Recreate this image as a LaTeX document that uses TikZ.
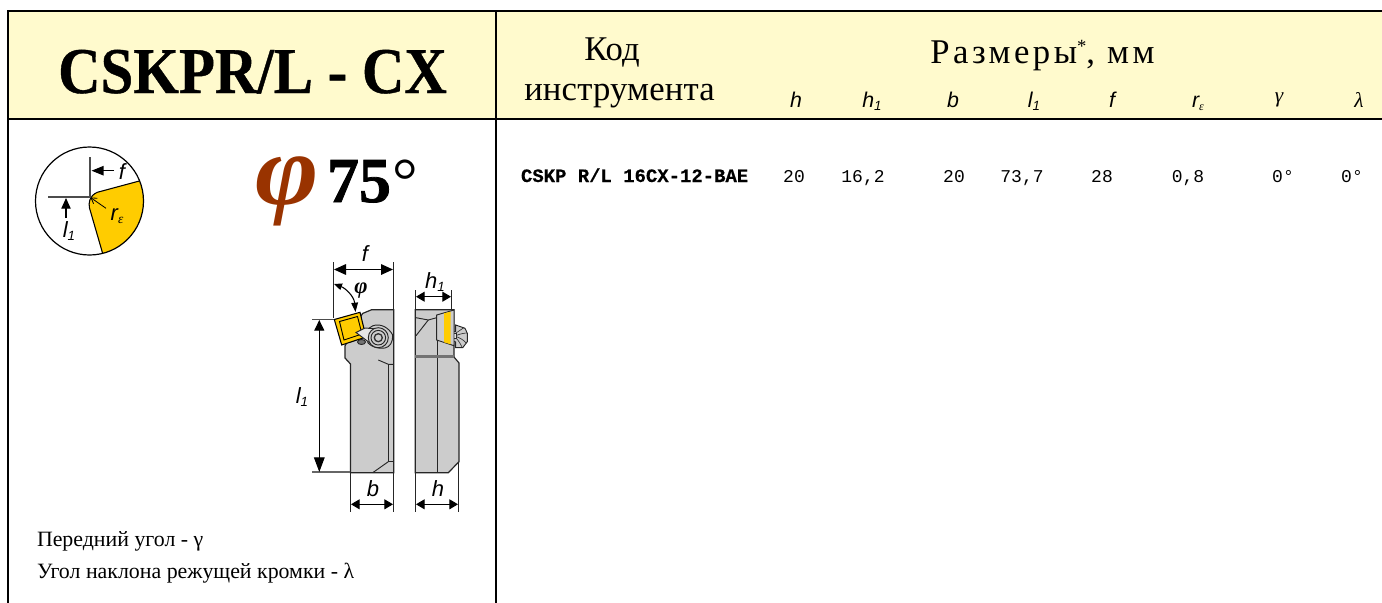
\documentclass[tikz,border=0pt]{standalone}
\usepackage{fontspec}
\setmainfont{Liberation Serif}
\setsansfont{Liberation Sans}
\setmonofont{Liberation Mono}
\usetikzlibrary{arrows.meta}
\definecolor{hdr}{HTML}{FFFACD}
\definecolor{ins}{HTML}{FFCC00}
\definecolor{body}{HTML}{CCCCCC}
\definecolor{phic}{HTML}{993300}
\newcommand{\fs}[1]{\fontsize{#1}{#1}\selectfont}
\newcommand{\subs}[2]{\raisebox{-2.6pt}{\fs{#1}#2}}
\newcommand{\epsi}{{\rmfamily\itshape ε}}
\tikzset{
  x=0.75pt,y=-0.75pt,
  lbl/.style={inner sep=0pt,outer sep=0pt},
  frameln/.style={line width=2.2pt,black},
  dimln/.style={line width=0.8pt,black},
  extln/.style={line width=0.8pt,black!85},
  dimarr/.style={dimln,{Triangle[length=9pt,width=8pt]}-{Triangle[length=9pt,width=8pt]}},
  smallarr/.style={dimln,{Triangle[length=6.5pt,width=7.5pt]}-{Triangle[length=6.5pt,width=7.5pt]}},
  part/.style={line width=0.9pt,draw=black!85},
  thin part/.style={line width=0.7pt,draw=black!85},
  hdrit/.style={lbl,anchor=base,font=\sffamily\itshape\fs{16}},
  cell/.style={lbl,anchor=base,font=\ttfamily\fs{13.5}},
  dimtxt/.style={lbl,anchor=base,font=\sffamily\itshape\fs{16.5}},
}
\begin{document}
\begin{tikzpicture}
\useasboundingbox (0,0) rectangle (1382,603);
\fill[white] (0,0) rectangle (1382,603);
\fill[hdr] (8,11) rectangle (1382,119);
% frame
\draw[frameln] (1382,11) -- (8,11) -- (8,603);
\draw[frameln] (8,119) -- (1382,119);
\draw[frameln] (496,11) -- (496,603);
% header text
\node[lbl,anchor=base,font=\bfseries\fs{49}] (title) at (252.5,93) {\addfontfeatures{FakeStretch=0.9,FakeBold=0.6}CSKPR/L - CX};
\node[lbl,anchor=base,font=\fs{26}] (kod) at (612,60) {Код};
\node[lbl,anchor=base,font=\fs{26}] (instr) at (619.5,100) {\addfontfeatures{LetterSpace=0.5}инструмента};
\node[lbl,anchor=base,font=\fs{26}] (razm) at (1042.5,63) {\addfontfeatures{LetterSpace=10}Размеры{\fs{14}\raisebox{8pt}{*}}, мм};
\node[hdrit] (hh) at (796,107) {h};
\node[hdrit] (hh1) at (872,107) {h\subs{10}{1}};
\node[hdrit] (hb) at (953,107) {b};
\node[hdrit] (hl1) at (1034,107) {l\subs{10}{1}};
\node[hdrit] (hf) at (1112,107) {f};
\node[hdrit] (hr) at (1198,107) {r\subs{9}{\epsi}};
\node[lbl,anchor=base,font=\itshape\fs{16}] (hg) at (1279,102) {γ};
\node[lbl,anchor=base,font=\itshape\fs{16}] (hl) at (1359,107) {λ};
% row
\node[lbl,anchor=base west,font=\ttfamily\bfseries\fs{14.2}] (code) at (521,182) {\addfontfeatures{FakeBold=0.4}CSKP R/L 16CX-12-BAE};
\node[cell] (c1) at (794,182) {20};
\node[cell] (c2) at (863,182) {16,2};
\node[cell] (c3) at (954,182) {20};
\node[cell] (c4) at (1022,182) {73,7};
\node[cell] (c5) at (1102,182) {28};
\node[cell] (c6) at (1188,182) {0,8};
\node[cell] (c7) at (1283,182) {0°};
\node[cell] (c8) at (1352,182) {0°};
% phi 75
\node[lbl,anchor=base,font=\bfseries\itshape\fs{76},text=phic] (phi) at (287.5,204) {\addfontfeatures{FakeStretch=1.07}φ};
\node[lbl,anchor=base west,font=\bfseries\fs{48}] (deg) at (327,202) {\addfontfeatures{FakeBold=1.2}75\hspace{1pt}{\mdseries\addfontfeatures{FakeBold=0}°}};
% notes
\node[lbl,anchor=base west,font=\fs{16.4}] (n1) at (37,546) {Передний угол - γ};
\node[lbl,anchor=base west,font=\fs{16.4}] (n2) at (37,578) {Угол наклона режущей кромки - λ};
% small circle
\coordinate (cc) at (89.5,201);
\fill[ins] (139.3,181) arc[start angle=-21.7,end angle=76,radius=54] -- (89.5,208) .. controls (88.5,203) and (89,196) .. (97.3,192.3) -- cycle;
\draw[line width=0.8pt] (139.3,181) -- (97.3,192.3) .. controls (89,196) and (88.5,203) .. (89.5,208) -- (102.7,253.5);
\draw[line width=0.9pt] (cc) circle[radius=54];
\coordinate (cv) at (90,157); \coordinate (ch) at (48,197); \coordinate (co) at (90,197);
\draw[black!70,line width=0.9pt] (cv) -- (co) -- (ch);
\coordinate (fa) at (114,170.7); \coordinate (fb) at (91.5,170.7);
\draw[dimln,-{Triangle[length=9pt,width=7pt]}] (fa) -- (fb);
\coordinate (la) at (66,218); \coordinate (lb) at (66,198);
\draw[dimln,-{Triangle[length=8pt,width=7pt]}] (la) -- (lb);
\coordinate (ra) at (106,208.3); \coordinate (rb) at (90.5,197.5);
\draw[line width=0.6pt,-{Straight Barb[length=4pt,width=5pt]}] (ra) -- (rb);
\node[dimtxt] (lf) at (122,179) {f};
\node[dimtxt] (ll) at (69,237) {l\subs{10}{1}};
\node[dimtxt] (lr) at (117,220) {r\subs{10}{\epsi}};
% left view body
\filldraw[body,part] (350.5,364) -- (345,358) -- (345,346) -- (362.5,313.5) -- (371.7,309.7) -- (393.7,309.7) -- (393.7,472.7) -- (350.5,472.7) -- cycle;
\draw[thin part] (378.3,360) -- (388.3,364.3) -- (393.7,364.3);
\draw[thin part] (388.3,364.3) -- (388.3,461.7) -- (393.7,461.7);
\draw[thin part] (388.3,461.7) -- (372.7,472.7);
% clamp
\filldraw[fill=black!55,thin part] (361.5,342) ellipse[x radius=4,y radius=2.5];
\filldraw[fill=body,thin part] (373,325.7) .. controls (381,323) and (389,328) .. (392.7,335) .. controls (393,342) and (390,347) .. (385,348) .. controls (378,349) and (372,347) .. (368,343) -- (366,330) -- cycle;
% insert
\filldraw[fill=ins,line width=0.8pt,draw=black] (334.3,319.5) -- (360,312.3) -- (366,337) -- (341.7,345) -- cycle;
\draw[line width=0.7pt] (339.5,321.5) -- (357.5,316.5) -- (362,334) -- (344,340) -- cycle;
\filldraw[fill=body!50,thin part] (356,332.5) -- (365,328) -- (377,329) -- (372,345) -- (370,343) -- cycle;
\filldraw[fill=body,thin part] (378.3,337.7) circle[radius=10];
\draw[thin part] (378.3,337.7) circle[radius=7.3];
\draw[line width=1pt,black!80] (378.3,337.7) circle[radius=4];
% right view body
\filldraw[body,part] (415.3,309.7) -- (454,309.7) -- (454,357) -- (459,363) -- (459,461.7) -- (448.3,472.7) -- (415.3,472.7) -- cycle;
\fill[black!55] (415.3,355) rectangle (454,357.5);
\draw[thin part] (437,357.5) -- (437,472.7);
\draw[thin part] (416,335.7) -- (428.3,320) -- (436.7,317.7);
\draw[thin part] (416,317.7) -- (428.3,320);
\draw[thin part] (437,340) -- (437,355);
% screw
\filldraw[fill=body,thin part] (451.7,331.7) -- (455.7,331.7) -- (455.7,325) -- (465,328.3) -- (467.3,333.3) -- (467.3,341.7) -- (462.7,347.7) -- (455.7,347.7) -- (455.7,342) -- (451.7,340) -- cycle;
\filldraw[fill=white!90!black,thin part] (452,333) -- (456,333) -- (456,338) -- (452,338) -- cycle;
\draw[line width=0.5pt,black!80] (456,333) .. controls (459,331) and (462,329) .. (464,327.5);
\draw[line width=0.5pt,black!80] (456,338) .. controls (459,341) and (461,345) .. (462,347);
\draw[line width=0.5pt,black!80] (456,335.5) .. controls (460,334) and (464,333) .. (467,333);
\draw[line width=0.5pt,black!80] (456,336.5) .. controls (460,338) and (464,340) .. (466,343);
\filldraw[fill=body,thin part] (436.7,315) -- (454,310) -- (454,345.7) -- (436.7,340) -- cycle;
\fill[ins] (444,313.3) -- (450.7,311.7) -- (450.7,344.3) -- (444,342.3) -- cycle;
% dimensions: f
\coordinate (fL0) at (333.5,262); \coordinate (fL1) at (333.5,318);
\coordinate (fR0) at (393.5,262); \coordinate (fR1) at (393.5,309);
\draw[extln] (fL0) -- (fL1); \draw[extln] (fR0) -- (fR1);
\coordinate (fA) at (334,269.5); \coordinate (fB) at (393,269.5);
\draw[dimarr] (fA) -- (fB);
\node[dimtxt] (df) at (365,261) {f};
% phi angle
\coordinate (pa) at (334,284); \coordinate (pb) at (355.5,312);
\draw[dimln,{Triangle[length=6pt,width=5pt]}-{Triangle[length=7pt,width=5pt]}] (pa) .. controls (345,288) and (354,296) .. (pb);
\node[lbl,anchor=base,font=\bfseries\itshape\fs{17}] (dp) at (361,293) {φ};
% l1
\coordinate (lt0) at (312,319.7); \coordinate (lt1) at (334,319.7);
\coordinate (lb0) at (312,472); \coordinate (lb1) at (350,472);
\draw[black!70,line width=0.8pt] (lt0) -- (lt1);
\draw[black!60,line width=0.9pt] (lb0) -- (lb1);
\coordinate (lA) at (319.3,320); \coordinate (lB) at (319.3,472);
\draw[dimln,{Triangle[length=8pt,width=7.5pt]}-{Triangle[length=11pt,width=8pt]}] (lA) -- (lB);
\node[dimtxt] (dl) at (302,403) {l\subs{10}{1}};
% h1
\coordinate (h0) at (415.3,290); \coordinate (h1) at (415.3,309);
\coordinate (h2) at (451.7,290); \coordinate (h3) at (451.7,309);
\draw[extln] (h0) -- (h1); \draw[extln] (h2) -- (h3);
\coordinate (hA) at (416,296.7); \coordinate (hB) at (451,296.7);
\draw[smallarr] (hA) -- (hB);
\node[dimtxt] (dh1) at (435,288) {h\subs{10}{1}};
% b
\coordinate (b0) at (350.3,473); \coordinate (b1) at (350.3,511.7);
\coordinate (b2) at (393.5,473); \coordinate (b3) at (393.5,511.7);
\draw[extln] (b0) -- (b1); \draw[extln] (b2) -- (b3);
\coordinate (bA) at (351,504.3); \coordinate (bB) at (393,504.3);
\draw[smallarr] (bA) -- (bB);
\node[dimtxt] (db) at (373,496) {b};
% h
\coordinate (c0) at (415.3,473); \coordinate (c1) at (415.3,511.7);
\coordinate (c2) at (458.7,462); \coordinate (c3) at (458.7,511.7);
\draw[extln] (c0) -- (c1); \draw[extln] (c2) -- (c3);
\coordinate (cA) at (416,504.3); \coordinate (cB) at (458,504.3);
\draw[smallarr] (cA) -- (cB);
\node[dimtxt] (dh) at (438,496) {h};
\end{tikzpicture}
\end{document}
